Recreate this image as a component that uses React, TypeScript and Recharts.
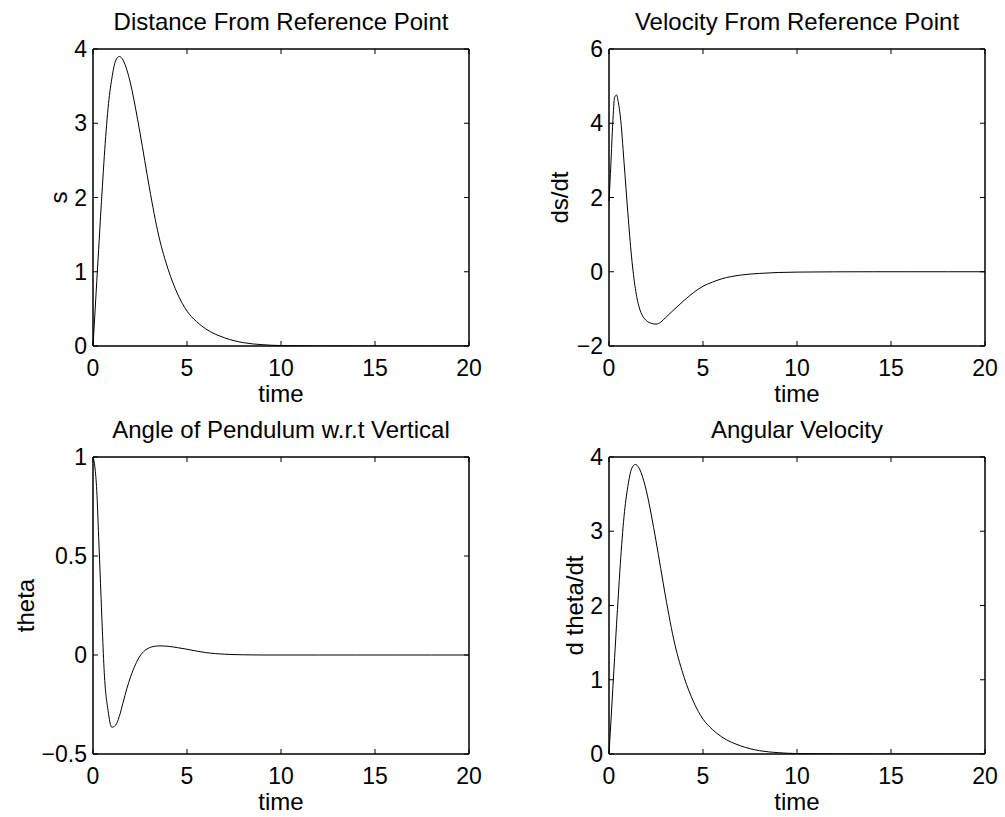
import { LineChart, Line, XAxis, YAxis } from 'recharts';

// sample times (s) and the four traces
const time = [0, 0.1, 0.2, 0.3, 0.4, 0.5, 0.6, 0.8, 1.0, 1.2, 1.4, 1.6, 1.8, 2.0, 2.25, 2.5, 2.75, 3.0, 3.5, 4.0, 4.5, 5.0, 5.5, 6.0, 7.0, 8.0, 9.0, 10, 12, 14, 16, 18, 20];

const sValues = [0, 0.43, 0.87, 1.3, 1.74, 2.15, 2.55, 3.2, 3.6, 3.84, 3.9, 3.85, 3.72, 3.53, 3.22, 2.87, 2.5, 2.13, 1.48, 1.03, 0.7, 0.47, 0.33, 0.23, 0.11, 0.045, 0.018, 0.006, 0.001, 0, 0, 0, 0];

const velocityValues = [1.9, 2.9, 4.0, 4.7, 4.76, 4.55, 4.2, 2.95, 1.6, 0.4, -0.45, -0.95, -1.2, -1.32, -1.39, -1.41, -1.36, -1.24, -1.0, -0.77, -0.56, -0.39, -0.28, -0.19, -0.09, -0.045, -0.02, -0.01, -0.002, 0, 0, 0, 0];

const thetaValues = [1, 0.95, 0.83, 0.6, 0.36, 0.12, -0.09, -0.28, -0.365, -0.355, -0.31, -0.24, -0.17, -0.11, -0.05, -0.005, 0.022, 0.037, 0.046, 0.044, 0.037, 0.029, 0.02, 0.012, 0.004, 0.001, 0, 0, 0, 0, 0, 0, 0];

const dthetaValues = [0, 0.43, 0.87, 1.3, 1.74, 2.15, 2.55, 3.2, 3.6, 3.84, 3.9, 3.85, 3.72, 3.53, 3.22, 2.87, 2.5, 2.13, 1.48, 1.03, 0.7, 0.47, 0.33, 0.23, 0.11, 0.045, 0.018, 0.006, 0.001, 0, 0, 0, 0];

const xTicks = [0, 5, 10, 15, 20];

const FONT = '"Liberation Sans", Arial, Helvetica, sans-serif';
const FS = 23;
const LABEL_FS = 24;

const fmt = (v: number) => String(v).replace('-', '\u2212');

type PanelProps = {
  left: number;
  top: number;
  width: number;
  height: number;
  yWidth: number;
  xHeight: number;
  title: string;
  yLabel: string;
  yLabelX: number;
  values: number[];
  domain: [number, number];
  yTicks: number[];
};

const Panel = ({ left, top, width, height, yWidth, xHeight, title, yLabel, yLabelX, values, domain, yTicks }: PanelProps) => {
  const data = time.map((t, i) => ({ t, v: values[i] }));
  const plotW = 376;
  const plotTop = 49;
  const axisStyle = { stroke: '#000', strokeWidth: 1.5 };
  const tickStyle = { fill: '#000', fontSize: FS, fontFamily: FONT };
  const labelStyle = { fill: '#000', fontSize: LABEL_FS, fontFamily: FONT };
  return (
    <div style={{ position: 'absolute', left, top, width, height }}>
      {/* 図のタイトル */}
      <div
        style={{
          position: 'absolute',
          left: yWidth,
          width: plotW,
          top: plotTop - 39.5,
          textAlign: 'center',
          fontFamily: FONT,
          fontSize: LABEL_FS,
          lineHeight: `${LABEL_FS}px`,
          color: '#000',
          whiteSpace: 'nowrap',
        }}
      >
        {title}
      </div>
      <LineChart
        width={width}
        height={height}
        data={data}
        margin={{ top: plotTop - 1, right: width - yWidth - plotW - 1, bottom: 0, left: 0 }}
      >
        <XAxis
          xAxisId="b"
          dataKey="t"
          type="number"
          domain={[0, 20]}
          ticks={xTicks}
          height={xHeight}
          axisLine={axisStyle}
          tickLine={{ stroke: '#000' }}
          tickSize={-5}
          tickMargin={19}
          tick={tickStyle}
          tickFormatter={fmt}
          label={{ value: 'time', position: 'insideBottom', offset: xHeight - 56, style: labelStyle }}
        />
        <XAxis
          xAxisId="t"
          orientation="top"
          dataKey="t"
          type="number"
          domain={[0, 20]}
          ticks={xTicks}
          height={1}
          axisLine={axisStyle}
          tickLine={{ stroke: '#000' }}
          tickSize={-5}
          tickFormatter={() => ''}
        />
        <YAxis
          yAxisId="l"
          type="number"
          domain={domain}
          ticks={yTicks}
          width={yWidth}
          allowDataOverflow
          axisLine={axisStyle}
          tickLine={{ stroke: '#000' }}
          tickSize={-5}
          tickMargin={11}
          tick={tickStyle}
          tickFormatter={fmt}
          label={{ value: yLabel, angle: -90, position: 'insideLeft', offset: yLabelX, style: { ...labelStyle, textAnchor: 'middle' } }}
        />
        <YAxis
          yAxisId="r"
          orientation="right"
          type="number"
          domain={domain}
          ticks={yTicks}
          width={1}
          allowDataOverflow
          axisLine={axisStyle}
          tickLine={{ stroke: '#000' }}
          tickSize={-5}
          tickFormatter={() => ''}
        />
        <Line
          xAxisId="b"
          yAxisId="l"
          type="monotone"
          dataKey="v"
          stroke="#000"
          strokeWidth={1}
          dot={false}
          isAnimationActive={false}
        />
      </LineChart>
    </div>
  );
};

export default function App() {
  return (
    <div style={{ position: 'absolute', left: 0, top: 0, width: 1005, height: 817, background: '#fff' }}>
      <Panel left={0} top={0} width={500} height={408} yWidth={93} xHeight={62}
        title="Distance From Reference Point" yLabel="s" yLabelX={58}
        values={sValues} domain={[0, 4]} yTicks={[0, 1, 2, 3, 4]} />
      <Panel left={500} top={0} width={505} height={408} yWidth={109} xHeight={62}
        title="Velocity From Reference Point" yLabel="ds/dt" yLabelX={59}
        values={velocityValues} domain={[-2, 6]} yTicks={[-2, 0, 2, 4, 6]} />
      <Panel left={0} top={408} width={500} height={409} yWidth={93} xHeight={63}
        title="Angle of Pendulum w.r.t Vertical" yLabel="theta" yLabelX={25}
        values={thetaValues} domain={[-0.5, 1]} yTicks={[-0.5, 0, 0.5, 1]} />
      <Panel left={500} top={408} width={505} height={409} yWidth={109} xHeight={63}
        title="Angular Velocity" yLabel="d theta/dt" yLabelX={74}
        values={dthetaValues} domain={[0, 4]} yTicks={[0, 1, 2, 3, 4]} />
    </div>
  );
}
